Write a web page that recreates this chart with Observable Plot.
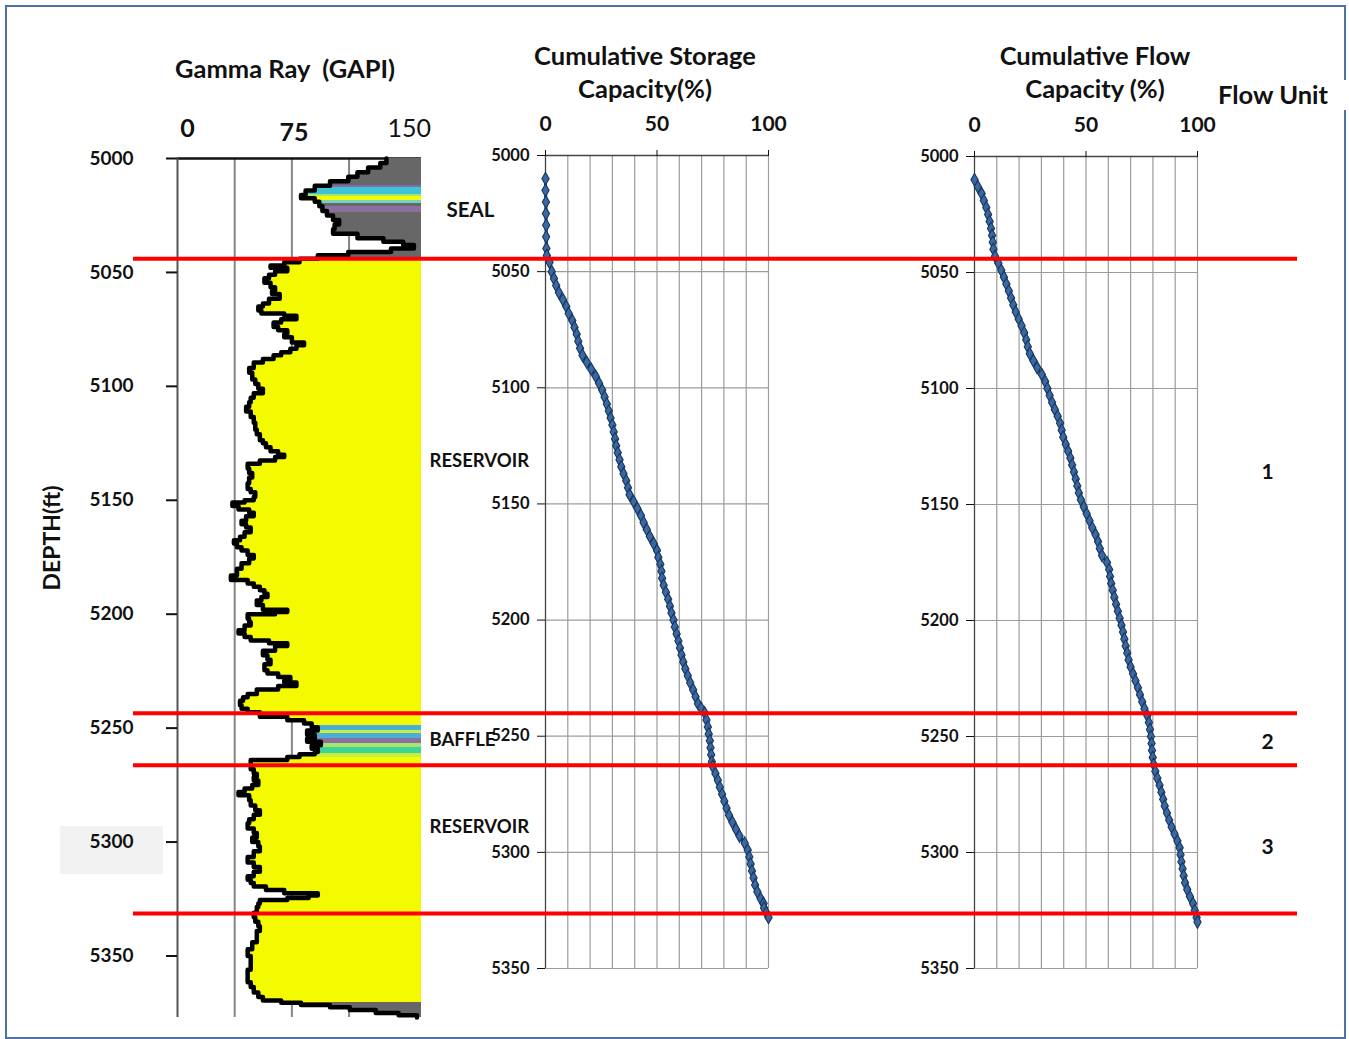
<!DOCTYPE html>
<html><head><meta charset="utf-8">
<script src="https://cdn.jsdelivr.net/npm/d3@7"></script>
<script src="https://cdn.jsdelivr.net/npm/@observablehq/plot@0.6"></script>
<style>
body{margin:0;background:#fff;font-family:Lato,"Open Sans",sans-serif;}
#wrap{position:relative;width:1349px;height:1039px;overflow:hidden;background:#fff;}
#wrap svg{position:absolute;left:0;top:0;}
.frame{position:absolute;left:5px;top:5px;width:1337px;height:1030px;border:2px solid #4f72a6;}
.t{position:absolute;font-weight:bold;color:#111;white-space:pre;text-align:center;line-height:1.3;}
</style></head>
<body><div id="wrap"></div>
<script>
// ---------- DATA ----------
// Gamma ray log (depth ft, GAPI)
const grDepth = [5000,5002,5004,5006,5008,5010,5012,5014,5016,5017.5,5019,5021,5023,5025,5027,5029,5031,5033,5035,5036.5,5038,5039.5,5041,5042.5,5044,5045.5,5047,5048,5049.5,5051,5052.6,5054.5,5056.5,5058,5059.5,5061.5,5063.6,5065,5066.7,5068,5069,5070.5,5072,5074,5075.4,5077,5078.5,5080.7,5082,5083.5,5085,5086.4,5088,5089.5,5092,5094,5097,5099,5101,5103,5105,5107,5109,5111,5113.5,5116,5119,5121,5123.7,5125,5126.7,5128.5,5130,5131,5132.5,5134,5136,5138,5140,5142.5,5145,5146.5,5148.6,5150,5151,5152.5,5154,5155.5,5157,5159,5160.5,5162,5164,5166,5167.5,5169,5170.6,5172,5174,5175.5,5177.6,5180,5183,5185,5186.5,5188,5189.5,5191,5192.5,5194,5196,5198,5199,5200,5202,5203.5,5205,5207,5208.5,5210,5211.5,5212.7,5214,5216,5218,5220,5222,5224.6,5226,5227.6,5229,5230,5231.5,5233,5235,5236.4,5238,5240,5241.5,5243,5245,5246.5,5248,5249.6,5251,5253,5254.5,5256,5257.5,5259,5260.5,5261.5,5262.7,5264,5266,5268,5270,5271.5,5273,5275,5276.5,5278,5279.5,5281.6,5284,5286,5288,5290,5291.7,5294,5296,5298,5300,5302,5304,5306.6,5309,5311,5313,5315,5316.5,5318,5319.5,5321,5322.5,5323.5,5324.5,5325.4,5327,5328.5,5331,5333,5335,5337,5339,5341.7,5344,5347,5350,5353,5356,5359,5361.5,5363.6,5366,5368,5369.5,5370.5,5371.5,5372.5,5373.7,5375,5376,5377];
const grValue = [137,133,125,118,112,100,90,84,81,90,93,95,98,102,106,103,102,118,135,148,155,140,112,92,80,70,61,72,64,60,57,61,64,62,67,60,56,53,55,70,78,68,63,66,72,70,75,83,78,74,68,63,56,50,47,49,51,53,56,50,48,47,45,48,50,51,52,54,56,58,61,66,70,64,54,46,47,49,47,46,48,51,50,44,36,40,47,50,45,42,45,48,44,41,37,39,42,46,50,47,42,39,35,46,50,54,57,59,55,52,56,72,64,46,47,48,44,40,44,48,60,72,64,56,59,61,57,59,66,74,70,78,66,52,46,43,41,42,46,54,72,83,88,92,85,90,85,94,88,92,90,80,72,48,48,50,52,50,53,49,44,40,47,48,51,54,50,47,46,50,52,49,53,54,50,46,50,54,50,46,48,50,58,70,92,86,72,54,53,52,50,51,53,54,52,52,49,46,48,48,46,46,48,50,53,56,68,81,100,113,130,145,157,157];

// Lithology colour classes of the gamma-ray shading (top, base, class)
const bandTop   = [5000,5011.8,5012.7,5015.8,5016.7,5018.4,5019.7,5021,5023.7,5043.9,5248.7,5250.9,5252.2,5254.4,5256.6,5258.3,5261,5262.7,5370.5];
const bandBase  = [5011.8,5012.7,5015.8,5016.7,5018.4,5019.7,5021,5023.7,5043.9,5248.7,5250.9,5252.2,5254.4,5256.6,5258.3,5261,5262.7,5370.5,5377];
const bandClass = ["shale","c1","c2","c3","sand","c4","shale","c5","shale","sand","c6","c7","c6","c5","c3","c8","c7","sand","shale"];
const classNames = ["shale","sand","c1","c2","c3","c4","c5","c6","c7","c8"];
const classColors = ["#676767","#f4fa00","#7d6fae","#3fc2d3","#a6e66c","#72d3c6","#8a6f9f","#4aaed8","#c6ef3e","#3fd497"];

// Cumulative storage capacity (%)
const storageDepth = [5010,5015,5020,5025,5030,5035,5040,5043,5046,5050,5053,5056,5059,5062,5065,5068,5071,5074,5077,5080,5083,5086,5089,5092,5095,5098,5101,5104,5107,5110,5113,5116,5119,5122,5125,5128,5131,5134,5137,5140,5143,5146,5149,5152,5155,5158,5161,5164,5167,5170,5173,5176,5179,5182,5185,5188,5191,5194,5197,5200,5203,5206,5209,5212,5215,5218,5221,5224,5227,5230,5233,5236,5238,5240,5243,5246,5249,5252,5255,5258,5261,5263,5266,5269,5272,5275,5278,5281,5284,5287,5290,5293,5296,5299,5302,5305,5308,5311,5314,5317,5320,5322,5324,5326,5328];
const storageValue = [0,0,0.2,0.2,0.3,0.3,0.4,0.6,1.8,2.8,3.8,4.8,6,7.8,9.3,10.4,12,13,14,14.7,15.5,16.6,18.5,20.5,22.5,24,25.4,26.5,27.5,28.4,29.2,30,30.6,31.2,31.7,32.4,33.2,34,35,36.2,37,37.7,39.5,41.2,42.8,44,45.4,46.8,48.5,50,50.6,51.5,52,52.3,53,54,55,55.8,56.5,57.4,58,58.8,59.6,60.3,61,61.8,62.7,63.8,64.9,66.2,67.3,68.4,69.8,71.4,72.2,72.8,73.2,73.7,74,74.3,74.6,75,76.2,77.3,78.2,79.2,80.2,81.2,82.3,83.8,85.4,87,89.3,90.7,91.4,92,92.6,93.3,94,95,96.5,97.8,98,99,100];

// Cumulative flow capacity (%)
const flowDepth = [5010,5013,5016,5019,5022,5025,5028,5031,5034,5037,5040,5043,5046,5049,5052,5055,5058,5061,5064,5067,5070,5073,5076,5079,5082,5085,5088,5091,5094,5097,5100,5103,5106,5109,5112,5115,5118,5121,5124,5127,5130,5133,5136,5139,5142,5145,5148,5151,5154,5157,5160,5163,5166,5169,5172,5175,5178,5181,5184,5187,5190,5193,5196,5199,5202,5205,5208,5211,5214,5217,5220,5223,5226,5229,5232,5235,5238,5241,5244,5247,5250,5253,5256,5259,5262,5265,5268,5271,5274,5277,5280,5283,5286,5289,5292,5295,5298,5301,5304,5307,5310,5313,5316,5319,5322,5325,5328,5330];
const flowValue = [0,1.5,3.2,4.2,5.3,6.1,6.8,7.4,7.9,8.2,8.5,9.2,10.7,12,13.2,14.3,15.4,16.4,17.4,18.5,19.8,21.1,22.3,23.2,23.9,24.8,26.4,28.1,30.2,31.7,32.7,33.7,34.8,36,37.3,38.4,39.1,39.8,40.9,42,43,43.8,44.6,45.4,46.1,46.8,47.7,49,50.3,51.6,52.8,54.3,55.4,56.2,57.2,59.4,60.4,60.8,61.3,62,62.7,63.5,64.3,65.1,65.9,66.6,67.2,67.8,68.5,69.1,70,71.1,72.2,73.3,74.2,75.2,76.2,77.5,78.2,78.7,79.1,79.4,79.6,79.9,80.3,81.1,82,83,83.8,84.6,85.3,86.3,87.3,88.4,89.7,91,92,92.4,92.8,93.3,93.8,94.4,95.4,96.6,98,98.8,99.6,100];

// Zone boundaries (ft) and labels
const boundaryDepth = [5044.4, 5240.1, 5262.5, 5326.3];
const zoneName = ["SEAL","RESERVOIR","BAFFLE","RESERVOIR"];
const zoneLabelDepth = [5022.8, 5132.9, 5255.3, 5293.4];
const flowUnitName = ["1","2","3"];
const flowUnitLabelDepth = [5136, 5252.6, 5297.8];

const depthTicks = [5000,5050,5100,5150,5200,5250,5300,5350];
const grTicks = [0,75,150];
const pctTicks = [0,50,100];

// ---------- BUILD ----------
const W = 1349, H = 1039;
const wrap = document.getElementById("wrap");
function add(html){ wrap.insertAdjacentHTML("beforeend", html); }
add('<div class="frame"></div>');
add('<div style="position:absolute;left:1338px;top:80px;width:11px;height:30px;background:#fff"></div>');
add('<div style="position:absolute;left:60px;top:826px;width:103px;height:48px;background:#f2f2f2"></div>');
add('<div class="t" style="left:175px;top:52px;font-size:25.5px;">Gamma Ray  (GAPI)</div>');
add('<div class="t" style="left:505px;top:39px;width:280px;font-size:25.5px;">Cumulative Storage\nCapacity(%)</div>');
add('<div class="t" style="left:955px;top:39px;width:280px;font-size:25.5px;">Cumulative Flow\nCapacity (%)</div>');
add('<div class="t" style="left:1218px;top:78px;font-size:25.5px;">Flow Unit</div>');
add('<div class="t" style="left:-18px;top:523px;width:140px;font-size:23px;transform:rotate(-90deg);">DEPTH(ft)</div>');

const gr = grDepth.map((d,i)=>({d, v: grValue[i]}));
const bands = bandTop.map((t,i)=>({top:t, base:bandBase[i], cls:bandClass[i]}));
const breaks = Array.from(new Set([...grDepth, ...bandTop, ...bandBase])).sort((a,b)=>a-b);
const fillRects = [];
for (let k=0;k<breaks.length-1;k++){
  const a = breaks[k], b = breaks[k+1];
  let i = d3.bisectRight(grDepth, a) - 1; if (i < 0) i = 0;
  const band = bands.find(o => a >= o.top && a < o.base) || bands[bands.length-1];
  fillRects.push({y1:a, y2:b, x1:grValue[i], cls:band.cls});
}
const zones = zoneName.map((n,i)=>({n, d: zoneLabelDepth[i]}));
const units = flowUnitName.map((n,i)=>({n, d: flowUnitLabelDepth[i]}));
const storage = storageDepth.map((d,i)=>({d, v: storageValue[i]}));
const flow = flowDepth.map((d,i)=>({d, v: flowValue[i]}));
const svgStyle = {background:"transparent", overflow:"visible", fontFamily:"Lato, 'Open Sans', sans-serif", color:"#111"};

const grPlot = Plot.plot({
  width: W, height: H,
  marginLeft: 177, marginRight: W-421, marginTop: 158, marginBottom: H-1017,
  x: {domain:[0,160]},
  y: {domain:[5000,5377], reverse:true},
  color: {domain: classNames, range: classColors},
  style: svgStyle,
  marks: [
    Plot.ruleX([37.5,75,112.5], {stroke:"#858585", strokeWidth:2}),
    Plot.ruleY([5000], {stroke:"#111", strokeWidth:2.5}),
    Plot.rect(fillRects, {x1:"x1", x2:160, y1:"y1", y2:"y2", fill:"cls", shapeRendering:"crispEdges"}),
    Plot.ruleX([0], {stroke:"#555", strokeWidth:2}),
    Plot.lineX(gr, {x:"v", y:"d", curve:"step-before", stroke:"#000", strokeWidth:4.5}),
    Plot.axisY({ticks: depthTicks, tickSize:11, tickPadding:33, fontSize:19, fontWeight:"bold", tickFormat:"d", label:null, strokeWidth:2}),
    Plot.axisX({anchor:"top", ticks:grTicks.slice(0,1), tickSize:0, tickPadding:22, dx:10, fontSize:25, fontWeight:"bold", tickFormat:"d", label:null}),
    Plot.axisX({anchor:"top", ticks:grTicks.slice(1,2), tickSize:0, tickPadding:18, dx:2, fontSize:25, fontWeight:"bold", tickFormat:"d", label:null}),
    Plot.axisX({anchor:"top", ticks:grTicks.slice(2), tickSize:0, tickPadding:22, dx:3, fontSize:25, tickFormat:"d", label:null}),
    Plot.text(zones.filter(z=>z.n==="SEAL"), {x:160, y:"d", text:"n", textAnchor:"start", dx:25, fontSize:20.5, fontWeight:"bold"}),
    Plot.text(zones.filter(z=>z.n!=="SEAL"), {x:160, y:"d", text:"n", textAnchor:"start", dx:8, fontSize:18.5, fontWeight:"bold"})
  ]
});

function capPlot(data, left, right, top, extra){
  return Plot.plot({
    width: W, height: H,
    marginLeft: left, marginRight: W-right, marginTop: top, marginBottom: H-968,
    x: {domain:[0,100]},
    y: {domain:[5000,5350], reverse:true},
    style: svgStyle,
    marks: [
      Plot.ruleX(d3.range(10,101,10), {stroke:"#9c9c9c", strokeWidth:1.2}),
      Plot.ruleY(depthTicks.slice(1), {stroke:"#9c9c9c", strokeWidth:1.2}),
      Plot.ruleX([0], {stroke:"#444", strokeWidth:1.3}),
      Plot.ruleY([5000], {stroke:"#444", strokeWidth:1.3}),
      Plot.axisY({ticks: depthTicks, tickSize:8, tickPadding:8, fontSize:16.5, fontWeight:"bold", tickFormat:"d", label:null}),
      Plot.axisX({anchor:"top", ticks: pctTicks, tickSize:6, tickPadding:19, fontSize:21, fontWeight:"bold", tickFormat:"d", label:null}),
      Plot.line(data, {x:"v", y:"d", stroke:"#17365d", strokeWidth:3}),
      Plot.dot(data, {x:"v", y:"d", symbol:"diamond", r:3.8, fill:"#3a68a2", stroke:"#17365d", strokeWidth:1.1}),
      ...extra
    ]
  });
}
const stPlot = capPlot(storage, 545, 768, 155, []);
const flPlot = capPlot(flow, 974, 1197, 156, [
  Plot.text(units, {x:100, y:"d", text:"n", dx:70, fontSize:21, fontWeight:"bold"})
]);

const redPlot = Plot.plot({
  width: W, height: H,
  marginLeft: 133, marginRight: W-1297, marginTop: 155, marginBottom: H-968,
  x: {domain:[0,1], axis:null},
  y: {domain:[5000,5350], reverse:true, axis:null},
  style: svgStyle,
  marks: [ Plot.ruleY(boundaryDepth, {stroke:"#ff0000", strokeWidth:4}) ]
});

wrap.appendChild(grPlot);
wrap.appendChild(stPlot);
wrap.appendChild(flPlot);
wrap.appendChild(redPlot);
</script>
</body></html>
